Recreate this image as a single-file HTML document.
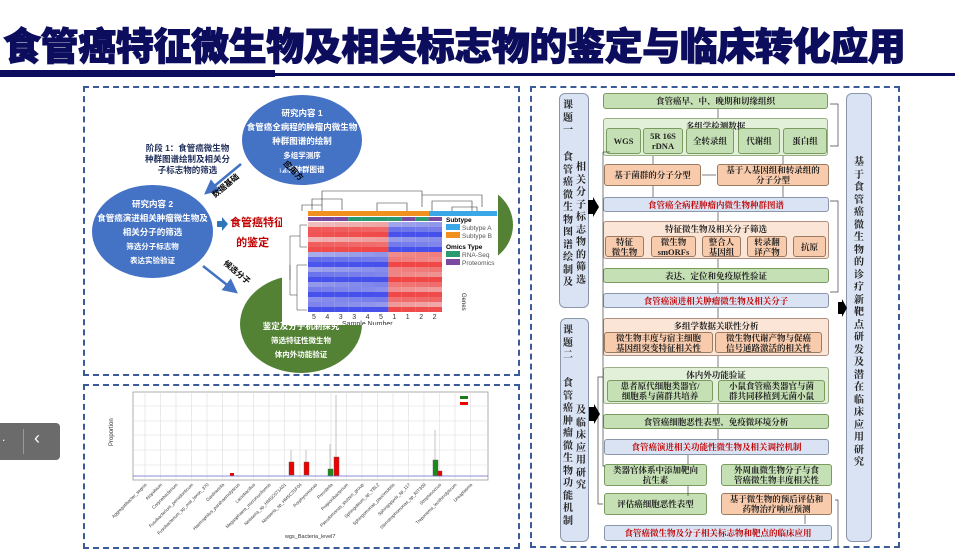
<!DOCTYPE html>
<html><head><meta charset="utf-8">
<style>
*{margin:0;padding:0;box-sizing:border-box}
body{width:955px;height:559px;background:#fff;position:relative;overflow:hidden;font-family:"Liberation Sans","Noto Sans CJK SC",sans-serif}
.a{position:absolute}
.title{left:3px;top:16px;font-size:38px;font-weight:900;color:#0d0d5e;letter-spacing:-0.4px;white-space:nowrap;-webkit-text-stroke:1px #0d0d5e}
.dash{position:absolute;border:2px dashed #3a5a9a}
.b{position:absolute;display:flex;align-items:center;justify-content:center;text-align:center;font-family:"Liberation Serif","Noto Serif CJK SC",serif;font-size:8.5px;line-height:10px;color:#222;border-radius:3px;font-weight:bold}
.g{background:#c5e0b4;border:1px solid #7a9a60}
.o{background:#f8cbad;border:1px solid #9a7a60}
.bl{background:#dae3f3;border:1px solid #8a96aa;color:#c00000}
.lg{background:#e2f0d9;border:1px solid #9ab088;align-items:flex-start;padding-top:2px}
.lo{background:#fbe5d6;border:1px solid #b09080;align-items:flex-start;padding-top:2px}
.v{position:absolute;background:#dae3f3;border:1px solid #8a96aa;border-radius:6px}
.col{position:absolute;width:12px;font-family:"Liberation Serif","Noto Serif CJK SC",serif;font-size:10px;line-height:12.5px;color:#222;word-break:break-all;text-align:center;font-weight:bold}
.ell{position:absolute;border-radius:50%;color:#fff;text-align:center;font-weight:bold;font-size:8.5px;line-height:14px;white-space:nowrap}
.ell small{font-size:7.5px;line-height:11px}
</style></head><body>
<div class="a title">食管癌特征微生物及相关标志物的鉴定与临床转化应用</div>
<div class="a" style="left:0;top:70px;width:275px;height:7px;background:#0d0d5e"></div>
<div class="a" style="left:275px;top:73px;width:680px;height:3px;background:#0d0d5e"></div>

<!-- left top panel -->
<div class="dash" style="left:83px;top:86px;width:437px;height:290px"></div>
<div class="ell" style="left:242px;top:95px;width:120px;height:90px;background:#4472c4;padding-top:11px">研究内容 1<br>食管癌全病程的肿瘤内微生物<br>种群图谱的绘制<br><small>多组学测序<br>绘制种群图谱</small></div>
<div class="ell" style="left:92px;top:185px;width:121px;height:93px;background:#4472c4;padding-top:12px">研究内容 2<br>食管癌演进相关肿瘤微生物及<br>相关分子的筛选<br><small>筛选分子标志物<br>表达实验验证</small></div>
<div class="ell" style="left:240px;top:275px;width:122px;height:98px;background:#548235;padding-top:44px">鉴定及分子机制探究<br><small>筛选特征性微生物<br>体内外功能验证</small></div>
<div class="ell" style="left:428px;top:185px;width:85px;height:80px;background:#548235"></div>
<div class="a" style="left:125px;top:143px;width:125px;font-size:8.5px;font-weight:bold;color:#1f2d5a;text-align:center;line-height:11px">阶段 1：食管癌微生物<br>种群图谱绘制及相关分<br>子标志物的筛选</div>
<div class="a" style="left:230px;top:213px;font-size:11px;font-weight:bold;color:#c00000;line-height:20px;white-space:nowrap">食管癌特征<br>&nbsp;&nbsp;的鉴定</div>
<svg class="a" style="left:83px;top:86px" width="437" height="290">
<defs><marker id="ar" markerWidth="6" markerHeight="6" refX="5" refY="3" orient="auto"><path d="M0,0L6,3L0,6z" fill="#4472c4"/></marker></defs>
<line x1="158" y1="78" x2="123" y2="107" stroke="#4472c4" stroke-width="2.5" marker-end="url(#ar)"/>
<line x1="120" y1="180" x2="153" y2="206" stroke="#4472c4" stroke-width="2.5" marker-end="url(#ar)"/>
<line x1="228" y1="105" x2="195" y2="72" stroke="#4472c4" stroke-width="2.5" marker-end="url(#ar)"/>
<path d="M134,135h5v-4l6,7l-6,7v-4h-5z" fill="#2e75b6"/>
<text x="132" y="112" font-size="8" font-weight="bold" transform="rotate(-40 132 112)" fill="#000">数据基础</text>
<text x="140" y="178" font-size="8" font-weight="bold" transform="rotate(40 140 178)" fill="#000">候选分子</text>
<text x="200" y="78" font-size="8" font-weight="bold" transform="rotate(45 200 78)" fill="#000">应用方</text>
</svg>
<div class="a" style="left:282px;top:185px;width:216px;height:140px;background:#fff"></div>
<svg class="a" id="hm" style="left:282px;top:185px" width="230" height="140"></svg>

<!-- bottom left chart -->
<div class="dash" style="left:83px;top:384px;width:437px;height:165px"></div>
<svg class="a" style="left:85px;top:386px" width="433" height="160" font-family="Liberation Sans">
<rect x="48" y="6" width="355" height="88" fill="#fff" stroke="#999" stroke-width="0.8"/>
<g stroke="#ddd" stroke-width="0.6">
<line x1="48" y1="20" x2="403" y2="20"/><line x1="48" y1="35" x2="403" y2="35"/><line x1="48" y1="49" x2="403" y2="49"/><line x1="48" y1="64" x2="403" y2="64"/><line x1="48" y1="79" x2="403" y2="79"/>
</g>
<g id="vl" stroke="#ddd" stroke-width="0.6"></g>
<text x="28" y="60" font-size="6" transform="rotate(-90 28 60)" fill="#333">Proportion</text>
<rect x="375" y="10" width="8" height="3" fill="#1a7a1a"/><rect x="375" y="16" width="8" height="3" fill="#e00"/>
<g stroke="#888" stroke-width="0.5"><line x1="206" y1="64" x2="206" y2="88"/><line x1="221" y1="64" x2="221" y2="88"/><line x1="251" y1="9" x2="251" y2="90"/><line x1="350" y1="44" x2="350" y2="90"/><line x1="245" y1="58" x2="245" y2="90"/></g>
<rect x="204" y="76" width="5" height="13" fill="#e00" stroke="#555" stroke-width="0.4"/>
<rect x="219" y="76" width="5" height="13" fill="#e00" stroke="#555" stroke-width="0.4"/>
<rect x="243" y="83" width="5" height="7" fill="#1a8a1a" stroke="#555" stroke-width="0.4"/>
<rect x="249" y="71" width="5" height="19" fill="#e00" stroke="#555" stroke-width="0.4"/>
<rect x="348" y="74" width="5" height="16" fill="#1a8a1a" stroke="#555" stroke-width="0.4"/>
<rect x="353" y="85" width="4" height="5" fill="#e00" stroke="#555" stroke-width="0.4"/>
<rect x="145" y="87" width="4" height="3" fill="#e00"/>
<line x1="48" y1="90" x2="403" y2="90" stroke="#66c" stroke-width="0.8"/>
<g id="lab" font-size="4.5" fill="#333"></g>
<text x="200" y="152" font-size="5.5" fill="#333">wgs_Bacteria_level7</text>
</svg>

<!-- gray pill -->
<div class="a" style="left:0;top:423px;width:60px;height:37px;background:#6b6b6b;border-radius:0 4px 4px 0"></div>
<div class="a" style="left:23px;top:429px;width:1px;height:25px;background:#999"></div>
<div class="a" style="left:34px;top:428px;color:#fff;font-size:18px">&#8249;</div>
<div class="a" style="left:2px;top:430px;color:#fff;font-size:12px">.</div>

<!-- right panel -->
<div class="dash" style="left:530px;top:86px;width:370px;height:462px"></div>
<div class="v" style="left:559px;top:93px;width:30px;height:215px"></div>
<div class="col" style="left:562px;top:100px">课题一</div>
<div class="col" style="left:562px;top:152px">食管癌微生物图谱绘制及</div>
<div class="col" style="left:575px;top:162px">相关分子标志物的筛选</div>
<div class="v" style="left:560px;top:318px;width:29px;height:224px"></div>
<div class="col" style="left:562px;top:325px">课题二</div>
<div class="col" style="left:562px;top:378px">食管癌肿瘤微生物功能机制</div>
<div class="col" style="left:575px;top:405px">及临床应用研究</div>
<div class="v" style="left:846px;top:93px;width:26px;height:449px"></div>
<div class="col" style="left:853px;top:157px">基于食管癌微生物的诊疗新靶点研发及潜在临床应用研究</div>

<div class="b g" style="left:603px;top:93px;width:225px;height:16px">食管癌早、中、晚期和切缘组织</div>
<div class="b lg" style="left:603px;top:118px;width:225px;height:38px">多组学检测数据</div>
<div class="b g" style="left:606px;top:128px;width:35px;height:26px">WGS</div>
<div class="b g" style="left:643px;top:128px;width:40px;height:26px">5R 16S<br>rDNA</div>
<div class="b g" style="left:686px;top:128px;width:48px;height:26px">全转录组</div>
<div class="b g" style="left:738px;top:128px;width:42px;height:26px">代谢组</div>
<div class="b g" style="left:783px;top:128px;width:44px;height:26px">蛋白组</div>
<div class="b o" style="left:604px;top:164px;width:97px;height:22px">基于菌群的分子分型</div>
<div class="b o" style="left:717px;top:164px;width:112px;height:22px">基于人基因组和转录组的<br>分子分型</div>
<div class="b bl" style="left:603px;top:197px;width:226px;height:15px">食管癌全病程肿瘤内微生物种群图谱</div>
<div class="b lo" style="left:603px;top:221px;width:226px;height:38px">特征微生物及相关分子筛选</div>
<div class="b o" style="left:605px;top:236px;width:39px;height:21px">特征<br>微生物</div>
<div class="b o" style="left:651px;top:236px;width:45px;height:21px">微生物<br>smORFs</div>
<div class="b o" style="left:702px;top:236px;width:39px;height:21px">整合人<br>基因组</div>
<div class="b o" style="left:747px;top:236px;width:40px;height:21px">转录翻<br>译产物</div>
<div class="b o" style="left:793px;top:236px;width:33px;height:21px">抗原</div>
<div class="b g" style="left:603px;top:268px;width:226px;height:15px">表达、定位和免疫原性验证</div>
<div class="b bl" style="left:603px;top:293px;width:226px;height:15px">食管癌演进相关肿瘤微生物及相关分子</div>
<div class="b lo" style="left:603px;top:318px;width:226px;height:38px">多组学数据关联性分析</div>
<div class="b o" style="left:604px;top:332px;width:109px;height:21px">微生物丰度与宿主细胞<br>基因组突变特征相关性</div>
<div class="b o" style="left:715px;top:332px;width:107px;height:21px">微生物代谢产物与促癌<br>信号通路激活的相关性</div>
<div class="b lg" style="left:603px;top:367px;width:226px;height:37px">体内外功能验证</div>
<div class="b g" style="left:607px;top:380px;width:106px;height:22px">患者原代细胞类器官/<br>细胞系与菌群共培养</div>
<div class="b g" style="left:718px;top:380px;width:107px;height:22px">小鼠食管癌类器官与菌<br>群共同移植到无菌小鼠</div>
<div class="b g" style="left:603px;top:414px;width:226px;height:15px">食管癌细胞恶性表型、免疫微环境分析</div>
<div class="b bl" style="left:604px;top:439px;width:225px;height:16px">食管癌演进相关功能性微生物及相关调控机制</div>
<div class="b g" style="left:604px;top:464px;width:103px;height:22px">类器官体系中添加靶向<br>抗生素</div>
<div class="b g" style="left:721px;top:464px;width:111px;height:22px">外周血微生物分子与食<br>管癌微生物丰度相关性</div>
<div class="b g" style="left:604px;top:493px;width:103px;height:22px">评估癌细胞恶性表型</div>
<div class="b o" style="left:721px;top:493px;width:111px;height:22px">基于微生物的预后评估和<br>药物治疗响应预测</div>
<div class="b bl" style="left:604px;top:525px;width:228px;height:16px">食管癌微生物及分子相关标志物和靶点的临床应用</div>
<svg class="a" style="left:530px;top:86px" width="370" height="462">
<g stroke="#444" stroke-width="0.7" fill="none">
<line x1="188" y1="23" x2="188" y2="32"/><line x1="123" y1="70" x2="123" y2="78"/><line x1="253" y1="70" x2="253" y2="78"/>
<line x1="172" y1="89" x2="186" y2="89"/><line x1="123" y1="100" x2="123" y2="111"/><line x1="253" y1="100" x2="253" y2="111"/>
<line x1="188" y1="126" x2="188" y2="135"/><line x1="188" y1="173" x2="188" y2="182"/><line x1="188" y1="197" x2="188" y2="207"/>
<line x1="188" y1="222" x2="188" y2="232"/><line x1="188" y1="270" x2="188" y2="281"/><line x1="188" y1="318" x2="188" y2="328"/><line x1="188" y1="343" x2="188" y2="353"/>
<line x1="158" y1="369" x2="158" y2="378"/><line x1="158" y1="400" x2="158" y2="410"/><line x1="275" y1="429" x2="275" y2="438"/>
<path d="M73,66 V380 H75"/><path d="M73,66 H80"/>
<path d="M300,115 H308 V206 H300"/><path d="M300,18 H308 V60 H300"/>
<path d="M73,291 H68 V418 H73"/>
<path d="M305,414 H308 V500"/>
</g>
<rect x="58" y="114" width="5" height="14" fill="#000"/><path d="M63,111l6,10l-6,10z" fill="#000"/>
<rect x="59" y="321" width="5" height="14" fill="#000"/><path d="M64,318l6,10l-6,10z" fill="#000"/>
<rect x="308" y="216" width="4" height="12" fill="#000"/><path d="M312,213l5,9l-5,9z" fill="#000"/>
</svg>
<script>
(function(){
var s=document.getElementById('hm'),h='';
h+='<g stroke="#333" stroke-width="0.6" fill="none"><path d="M40,22V6H140V22M140,22V10H200V22M30,25V14H60V25M95,26V18H125V26M150,26V16H190V26M20,26V20H40V26M170,26V22H195V26"/></g>';
h+='<rect x="26" y="26" width="121" height="5" fill="#f0901e"/><rect x="147" y="26" width="68" height="5" fill="#3aa8e8"/>';
var om=['#7a4aa0','#7a4aa0','#7a4aa0','#2a9a70','#2a9a70','#2a9a70','#2a9a70','#7a4aa0','#2a9a70','#7a4aa0'];
for(var c=0;c<10;c++)h+='<rect x="'+(26+c*13.4)+'" y="32" width="13.4" height="4" fill="'+om[c]+'"/>';
for(var r=0;r<18;r++)for(c=0;c<10;c++){
var v=(r<6?(c<6?1:-1):(c<6?-1:1))*(0.3+0.7*Math.abs(Math.sin(r*7.3+c*3.1)));
var col=v>0?'rgb(240,'+Math.round(240-170*v)+','+Math.round(240-170*v)+')':'rgb('+Math.round(240+170*v)+','+Math.round(240+160*v)+',235)';
h+='<rect x="'+(26+c*13.4)+'" y="'+(37+r*5)+'" width="13.4" height="5" fill="'+col+'"/>';}
h+='<g stroke="#333" stroke-width="0.5" fill="none"><path d="M25,40H18V62H25M18,51H8V110H15V80H25M15,110V125H25M8,80V95"/></g>';
var sn=['5','4','3','3','4','5','1','1','2','2'];
for(c=0;c<10;c++)h+='<text x="'+(30+c*13.4)+'" y="134" font-size="7" fill="#333">'+sn[c]+'</text>';
h+='<text x="60" y="141" font-size="7" fill="#333">Sample Number</text>';
h+='<text x="180" y="108" font-size="6" fill="#333" transform="rotate(90 180 108)">Genes</text>';
h+='<text x="164" y="37" font-size="6.5" font-weight="bold">Subtype</text><rect x="164" y="39" width="14" height="6" fill="#3aa8e8"/><text x="180" y="45" font-size="6.5" fill="#555">Subtype A</text><rect x="164" y="47" width="14" height="6" fill="#f0901e"/><text x="180" y="53" font-size="6.5" fill="#555">Subtype B</text>';
h+='<text x="164" y="64" font-size="6.5" font-weight="bold">Omics Type</text><rect x="164" y="66" width="14" height="6" fill="#2a9a70"/><text x="180" y="72" font-size="6.5" fill="#555">RNA-Seq</text><rect x="164" y="74" width="14" height="6" fill="#7a4aa0"/><text x="180" y="80" font-size="6.5" fill="#555">Proteomics</text>';
s.innerHTML=h;
var vl='',lb='';var names=['Aggregatibacter_segnis','Atopobium','Corynebacterium','Fusobacterium_periodonticum','Fusobacterium_sp_oral_taxon_370','Gardnerella','Haemophilus_parahaemolyticus','Lactobacillus','Megasphaera_micronuciformis','Neisseria_sp_HMSC071A01','Neisseria_sp_HMSC31F04','Porphyromonas','Prevotella','Propionibacterium','Pseudomonas_stutzeri_group','Sphingobium_sp_YBL2','Sphingomonas_paucimobilis','Sphingopyxis_sp_117','Stenotrophomonas_sp_RIT309','Streptococcus','Treponema_lecithinolyticum','Ureaplasma'];
for(var i=0;i<names.length;i++){var x=60+i*15.5;vl+='<line x1="'+x+'" y1="6" x2="'+x+'" y2="94"/>';lb+='<text x="'+(x+2)+'" y="99" text-anchor="end" transform="rotate(-45 '+(x+2)+' 99)">'+names[i]+'</text>';}
document.getElementById('vl').innerHTML=vl;document.getElementById('lab').innerHTML=lb;
})();
</script>
</body></html>
